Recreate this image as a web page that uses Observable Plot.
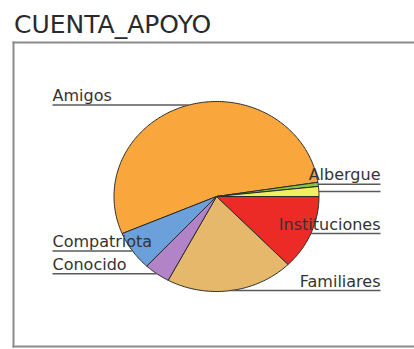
<!DOCTYPE html>
<html>
<head>
<meta charset="utf-8">
<script src="https://cdn.jsdelivr.net/npm/d3@7"></script>
<script src="https://cdn.jsdelivr.net/npm/@observablehq/plot@0.6"></script>
<style>
  html, body { margin: 0; padding: 0; background: #fff; overflow: hidden; }
  #title { height: 40px; font-family: "DejaVu Sans", sans-serif; font-size: 25px; color: #2a2a2a;
           padding-left: 14px; line-height: 40px; box-sizing: border-box; padding-top: 5px; white-space: nowrap; }
  #chart svg { display: block; }
</style>
</head>
<body>
<div id="title">CUENTA_APOYO</div>
<div id="chart"></div>
<script>
// Data (percentages), in drawing order, clockwise
const categories = ["Amigos", "Albergue", "Otros", "Instituciones", "Familiares", "Conocido", "Compatriota"];
const values     = [54.0, 0.7, 1.7, 12.7, 20.1, 4.1, 6.7];
const labels     = ["Amigos", "Albergue", "", "Instituciones", "Familiares", "Conocido", "Compatriota"];
const colors     = ["#f9a73c", "#86c63e", "#f3ef5c", "#ec2b26", "#e5b86c", "#b383c8", "#6ba0da"];

const startDeg = 247; // start of the first slice, measured clockwise from 12 o'clock
const a0 = startDeg * Math.PI / 180;

const data = categories.map((name, i) => ({name, value: values[i], label: labels[i]}));
const arcs = d3.pie().sort(null).value(d => d.value).startAngle(a0).endAngle(a0 + 2 * Math.PI)(data);

const poly = [];
for (const a of arcs) {
  const name = a.data.name;
  poly.push({name, x: 0, y: 0});
  const n = Math.max(2, Math.ceil((a.endAngle - a.startAngle) / (Math.PI / 180)));
  for (let k = 0; k <= n; k++) {
    const t = a.startAngle + (a.endAngle - a.startAngle) * k / n;
    poly.push({name, x: Math.sin(t), y: -Math.cos(t)});
  }
  poly.push({name, x: 0, y: 0});
}

const sideX = 1.6;
const leaders = arcs.map(a => {
  const m = (a.startAngle + a.endAngle) / 2;
  const x = Math.sin(m), y = -Math.cos(m);
  const side = x >= 0 ? 1 : -1;
  return {name: a.data.name, label: a.data.label, x1: x, y1: y, x2: side * sideX, y2: y, side};
});

const frameStyle = {stroke: "#8c8c8c", strokeWidth: 2};
const chart = Plot.plot({
  width: 414,
  height: 309,
  marginLeft: 13,
  marginRight: 0,
  marginTop: 2,
  marginBottom: 3,
  x: {domain: [-1, 1], range: [113.5, 318.5], axis: null},
  y: {domain: [-1, 1], range: [61, 251], axis: null},
  color: {domain: categories, range: colors},
  style: {fontFamily: "DejaVu Sans, sans-serif", background: "#fff"},
  marks: [
    Plot.frame({anchor: "left", ...frameStyle}),
    Plot.frame({anchor: "top", ...frameStyle}),
    Plot.frame({anchor: "bottom", ...frameStyle}),
    Plot.line(poly, {x: "x", y: "y", z: "name", fill: "name", stroke: "#2b2b2b", strokeWidth: 1, strokeLinejoin: "round"}),
    Plot.link(leaders, {x1: "x1", y1: "y1", x2: "x2", y2: "y2", stroke: "#5a5a5a", strokeWidth: 1.5}),
    Plot.text(leaders.filter(d => d.label && d.side < 0), {x: "x2", y: "y2", text: "label", textAnchor: "start", dy: -9, fontSize: 16, fill: "#333"}),
    Plot.text(leaders.filter(d => d.label && d.side > 0), {x: "x2", y: "y2", text: "label", textAnchor: "end", dy: -9, fontSize: 16, fill: "#333"})
  ]
});
document.getElementById("chart").appendChild(chart);
</script>
</body>
</html>
